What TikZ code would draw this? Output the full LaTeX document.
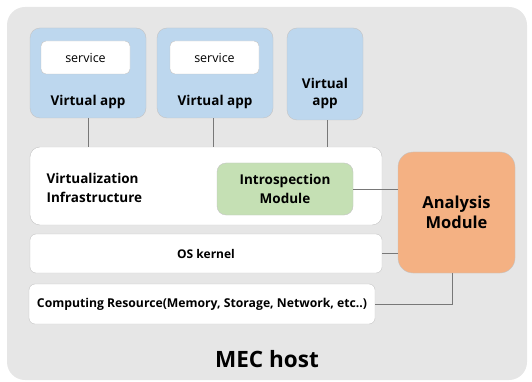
\documentclass[tikz,border=0pt]{standalone}
\usepackage{fontspec}
\setmainfont{Open Sans}
\usetikzlibrary{positioning,calc}
\definecolor{hostgray}{RGB}{230,230,230}
\definecolor{appblue}{RGB}{189,215,238}
\definecolor{intgreen}{RGB}{197,224,180}
\definecolor{anorange}{RGB}{244,177,131}
\definecolor{edgegray}{RGB}{196,196,196}
\definecolor{wiregray}{RGB}{120,120,120}
\tikzset{
  hostbox/.style={fill=hostgray, rounded corners=18pt, minimum width=520pt,
                  minimum height=373pt, inner sep=0pt},
  appbox/.style={draw=edgegray, fill=appblue, rounded corners=10pt,
                 minimum width=#1, minimum height=90pt, inner sep=0pt},
  svcbox/.style={draw=edgegray, fill=white, rounded corners=5pt,
                 minimum width=89pt, minimum height=33pt,
                 font=\fontsize{12.5}{15}\selectfont},
  layer/.style={draw=edgegray, fill=white, rounded corners=#1,
                minimum width=352pt, inner sep=0pt},
  modbox/.style={draw=edgegray, fill=#1, rounded corners=9pt, align=center,
                 inner sep=0pt, font=\fontsize{13.5}{19}\selectfont\bfseries},
  lbl/.style={font=\fontsize{13.5}{19}\selectfont\bfseries, align=center},
  wire/.style={draw=wiregray, line width=0.9pt},
}
\begin{document}
\begin{tikzpicture}[x=1pt, y=-1pt]
\useasboundingbox (0,0) rectangle (532,382);

% Host frame
\node[hostbox] (host) at (267,193.5) {};
\node[font=\fontsize{22.5}{26}\selectfont\bfseries] (hostname) at (267,359) {MEC host};

% Virtual apps
\node[appbox=116pt] (app1) at (88,73) {};
\node[svcbox] (svc1) at (85.5,57.5) {service};
\node[lbl] (app1txt) at (88,102) {Virtual app};

\node[appbox=116pt] (app2) at (215,73) {};
\node[svcbox] (svc2) at (214.5,57.5) {service};
\node[lbl] (app2txt) at (215,102) {Virtual app};

\node[appbox=76pt, minimum height=92pt] (app3) at (325,74) {};
\node[lbl, font=\fontsize{13.5}{17}\selectfont\bfseries] (app3txt) at (325,93) {Virtual\\app};

% Layers
\node[layer=10pt, minimum height=78pt] (virt) at (206,186) {};
\node[lbl, align=left, anchor=west] (virttxt) at (43,187.5) {Virtualization\\Infrastructure};
\node[modbox=intgreen, minimum width=136pt, minimum height=52pt] (intro) at (285,189)
     {Introspection\\Module};

\node[layer=6pt, minimum height=39pt, font=\fontsize{12}{14}\selectfont\bfseries]
     (os) at (206,253.5) {OS kernel};
\node[layer=6pt, minimum width=346pt, minimum height=40pt,
      font=\fontsize{12.2}{14}\selectfont\bfseries]
     (comp) at (202,304) {Computing Resource(Memory, Storage, Network, etc..)};

% Analysis
\node[modbox=anorange, rounded corners=15pt, minimum width=117pt, minimum height=121pt,
      font=\fontsize{16.5}{20}\selectfont\bfseries] (analysis) at (456.5,212.5)
     {Analysis\\Module};

% Connectors
\draw[wire] (app1.south) -- (app1.south |- virt.north);
\draw[wire] ($(app2.south)+(-2,0)$) -- ($(app2.south |- virt.north)+(-2,0)$);
\draw[wire] ($(app3.south)+(2,0)$) -- ($(app3.south |- virt.north)+(2,0)$);
\draw[wire] (intro.east) -- (intro.east -| analysis.west);
\draw[wire] (os.east) -- (os.east -| analysis.west);
\draw[wire] (comp.east) -| ($(analysis.south)+(-4,0)$);

\end{tikzpicture}
\end{document}
